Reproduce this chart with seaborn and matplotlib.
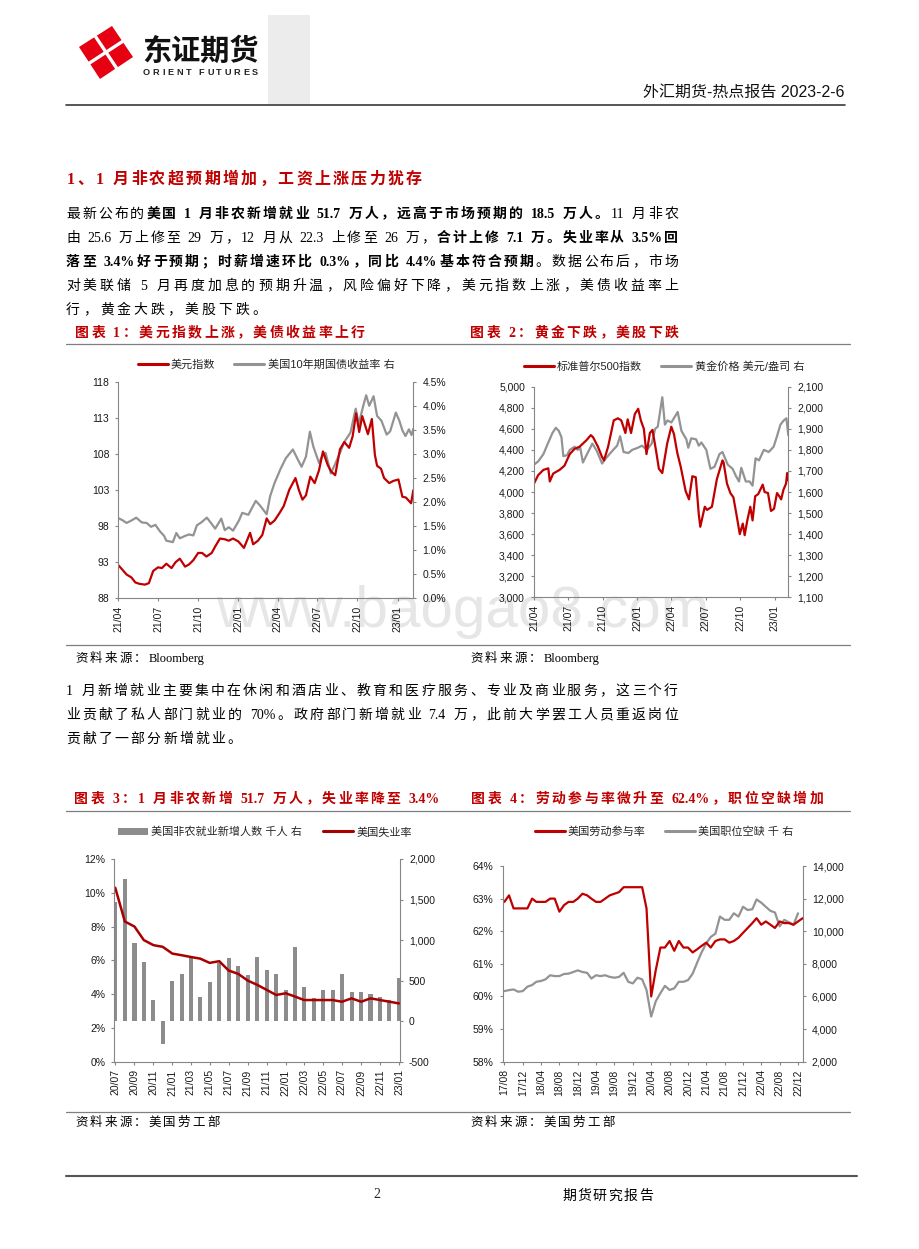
import re
import math
import numpy as np
import pandas as pd
import matplotlib
matplotlib.use('Agg')
import matplotlib.pyplot as plt
import matplotlib.dates as mdates
import matplotlib.ticker as mticker
import matplotlib.transforms as mtransforms
from matplotlib.backends.backend_agg import get_hinting_flag
from matplotlib.lines import Line2D
from matplotlib.patches import Patch, Polygon, Rectangle
import seaborn as sns

# ---------------- data ----------------
# chart 1: dollar index (left) and US 10y yield % (right)
dxy_dates = ['2021-04-01', '2021-04-10', '2021-04-20', '2021-05-01', '2021-05-10', '2021-05-20',
             '2021-06-01', '2021-06-10', '2021-06-20', '2021-07-01', '2021-07-10', '2021-07-20',
             '2021-08-01', '2021-08-10', '2021-08-20', '2021-09-01', '2021-09-10', '2021-09-20',
             '2021-10-01', '2021-10-10', '2021-10-20', '2021-11-01', '2021-11-10', '2021-11-20',
             '2021-12-01', '2021-12-10', '2021-12-20', '2022-01-01', '2022-01-14', '2022-01-28',
             '2022-02-04', '2022-02-15', '2022-02-25', '2022-03-07', '2022-03-15', '2022-03-25',
             '2022-04-05', '2022-04-15', '2022-04-28', '2022-05-12', '2022-05-20', '2022-05-28',
             '2022-06-05', '2022-06-15', '2022-06-25', '2022-07-05', '2022-07-14', '2022-07-25',
             '2022-08-02', '2022-08-11', '2022-08-22', '2022-09-01', '2022-09-12', '2022-09-20',
             '2022-09-28', '2022-10-05', '2022-10-12', '2022-10-25', '2022-11-03', '2022-11-10',
             '2022-11-15', '2022-11-24', '2022-12-01', '2022-12-13', '2022-12-22', '2023-01-03',
             '2023-01-12', '2023-01-20', '2023-01-26', '2023-02-01', '2023-02-06']
dxy = [92.6, 92.0, 91.3, 90.9, 90.2, 90.0, 89.9, 90.1, 91.8, 92.3, 92.2, 92.8,
       92.2, 93.0, 93.5, 92.4, 92.7, 93.3, 94.3, 94.3, 93.8, 94.3, 95.3, 96.3,
       96.2, 96.0, 96.3, 95.9, 95.0, 97.1, 95.5, 96.0, 96.8, 99.1, 98.3, 98.8,
       99.8, 100.8, 103.1, 104.7, 103.0, 101.7, 102.3, 104.9, 104.0, 105.8, 108.4, 106.5,
       105.6, 105.1, 108.7, 109.7, 108.9, 110.5, 113.7, 111.1, 113.3, 110.8, 112.9, 107.9,
       106.4, 106.0, 104.7, 104.0, 104.3, 104.5, 102.1, 102.0, 101.6, 101.2, 103.0]

ust_dates = ['2021-04-01', '2021-04-10', '2021-04-20', '2021-05-01', '2021-05-12', '2021-05-25',
             '2021-06-05', '2021-06-15', '2021-06-25', '2021-07-05', '2021-07-15', '2021-07-20',
             '2021-08-04', '2021-08-12', '2021-08-20', '2021-09-01', '2021-09-10', '2021-09-20',
             '2021-09-28', '2021-10-08', '2021-10-21', '2021-11-01', '2021-11-09', '2021-11-23',
             '2021-12-01', '2021-12-10', '2021-12-20', '2022-01-03', '2022-01-10', '2022-01-24',
             '2022-02-10', '2022-02-20', '2022-03-07', '2022-03-15', '2022-03-25', '2022-04-08',
             '2022-04-20', '2022-05-06', '2022-05-18', '2022-05-26', '2022-06-05', '2022-06-14',
             '2022-06-22', '2022-07-05', '2022-07-12', '2022-07-20', '2022-08-01', '2022-08-10',
             '2022-08-22', '2022-09-01', '2022-09-15', '2022-09-27', '2022-10-04', '2022-10-14',
             '2022-10-21', '2022-10-28', '2022-11-07', '2022-11-15', '2022-11-25', '2022-12-07',
             '2022-12-15', '2022-12-28', '2023-01-05', '2023-01-12', '2023-01-19', '2023-01-27',
             '2023-02-02', '2023-02-06']
ust = [1.67, 1.63, 1.57, 1.62, 1.68, 1.58, 1.57, 1.49, 1.53, 1.40, 1.30, 1.20,
       1.17, 1.36, 1.25, 1.30, 1.33, 1.31, 1.52, 1.58, 1.68, 1.55, 1.45, 1.66,
       1.42, 1.48, 1.41, 1.63, 1.78, 1.74, 2.03, 1.93, 1.75, 2.13, 2.40, 2.70,
       2.92, 3.10, 2.88, 2.74, 2.95, 3.47, 3.16, 2.82, 2.96, 3.03, 2.60, 2.78,
       3.03, 3.26, 3.45, 3.95, 3.63, 4.00, 4.23, 4.01, 4.21, 3.80, 3.70, 3.41,
       3.48, 3.87, 3.70, 3.50, 3.38, 3.52, 3.40, 3.53]

# chart 2: S&P 500 (left) and gold USD/oz (right)
spx_dates = ['2021-04-01', '2021-04-12', '2021-04-26', '2021-05-09', '2021-05-13', '2021-05-22',
             '2021-06-08', '2021-06-21', '2021-07-05', '2021-07-18', '2021-07-31', '2021-08-18',
             '2021-08-30', '2021-09-05', '2021-09-18', '2021-09-28', '2021-10-04', '2021-10-15',
             '2021-10-30', '2021-11-10', '2021-11-19', '2021-11-30', '2021-12-06', '2021-12-15',
             '2021-12-25', '2022-01-03', '2022-01-10', '2022-01-18', '2022-01-25', '2022-02-03',
             '2022-02-10', '2022-02-20', '2022-02-27', '2022-03-08', '2022-03-21', '2022-04-01',
             '2022-04-08', '2022-04-17', '2022-04-26', '2022-05-09', '2022-05-18', '2022-05-27',
             '2022-06-05', '2022-06-13', '2022-06-17', '2022-06-29', '2022-07-05', '2022-07-18',
             '2022-07-31', '2022-08-15', '2022-08-18', '2022-08-27', '2022-09-05', '2022-09-13',
             '2022-09-22', '2022-09-30', '2022-10-08', '2022-10-13', '2022-10-20', '2022-10-28',
             '2022-11-03', '2022-11-10', '2022-11-18', '2022-11-30', '2022-12-05', '2022-12-14',
             '2022-12-22', '2022-12-30', '2023-01-07', '2023-01-13', '2023-01-18', '2023-01-24',
             '2023-01-31', '2023-02-03', '2023-02-06']
spx = [4080, 4160, 4210, 4225, 4100, 4175, 4210, 4250, 4360, 4410, 4430, 4490,
       4540, 4520, 4430, 4340, 4300, 4430, 4680, 4700, 4680, 4560, 4690, 4560,
       4740, 4790, 4680, 4600, 4360, 4560, 4590, 4380, 4220, 4180, 4460, 4620,
       4550, 4370, 4240, 4010, 3930, 4150, 4140, 3790, 3670, 3860, 3830, 3860,
       4120, 4300, 4280, 4080, 3990, 3950, 3770, 3600, 3700, 3590, 3730, 3860,
       3730, 3960, 3980, 4070, 4000, 3990, 3820, 3840, 3990, 3960, 3930, 4020,
       4080, 4180, 4110]

gold_dates = ['2021-04-01', '2021-04-12', '2021-04-26', '2021-05-09', '2021-05-20', '2021-05-29',
              '2021-06-06', '2021-06-13', '2021-06-18', '2021-06-28', '2021-07-05', '2021-07-18',
              '2021-07-26', '2021-08-02', '2021-08-09', '2021-08-20', '2021-08-30', '2021-09-03',
              '2021-09-15', '2021-09-29', '2021-10-09', '2021-10-26', '2021-11-08', '2021-11-16',
              '2021-11-25', '2021-12-08', '2021-12-18', '2022-01-02', '2022-01-13', '2022-01-26',
              '2022-02-08', '2022-02-17', '2022-02-24', '2022-03-08', '2022-03-15', '2022-03-22',
              '2022-04-01', '2022-04-18', '2022-04-28', '2022-05-11', '2022-05-16', '2022-05-24',
              '2022-06-06', '2022-06-13', '2022-06-20', '2022-07-03', '2022-07-14', '2022-07-25',
              '2022-08-07', '2022-08-15', '2022-08-29', '2022-09-11', '2022-09-20', '2022-09-28',
              '2022-10-04', '2022-10-16', '2022-10-26', '2022-11-03', '2022-11-11', '2022-11-20',
              '2022-12-03', '2022-12-16', '2022-12-29', '2023-01-07', '2023-01-16', '2023-01-25',
              '2023-02-01', '2023-02-06']
gold = [1730, 1745, 1780, 1835, 1880, 1905, 1890, 1860, 1770, 1775, 1800, 1815,
        1800, 1810, 1740, 1780, 1815, 1830, 1795, 1735, 1760, 1795, 1820, 1865,
        1790, 1785, 1800, 1810, 1820, 1800, 1830, 1900, 1910, 2050, 1920, 1940,
        1930, 1980, 1890, 1850, 1810, 1855, 1850, 1820, 1835, 1800, 1710, 1720,
        1780, 1790, 1730, 1710, 1675, 1650, 1715, 1650, 1650, 1630, 1760, 1750,
        1800, 1790, 1815, 1865, 1920, 1940, 1950, 1870]

# chart 3: nonfarm payrolls (thousand, right) and unemployment rate % (left)
nfp_months = pd.date_range('2020-07-01', '2023-01-01', freq='MS')
nfp = [1470, 1750, 965, 735, 265, -280,
       500, 585, 800, 295, 485, 715, 775, 680, 565, 790, 625, 585,
       380, 915, 420, 290, 380, 380, 585, 365, 365, 335, 295, 265,
       530]
unrate = [10.3, 8.3, 8.0, 7.2, 6.9, 6.8,
          6.4, 6.3, 6.2, 6.1, 5.85, 5.95, 5.4, 5.2, 4.8, 4.55, 4.25, 3.95,
          4.05, 3.85, 3.65, 3.65, 3.65, 3.65, 3.55, 3.75, 3.55, 3.75, 3.65, 3.55,
          3.45]

# chart 4: participation rate % (left) and job openings thousand (right)
lfpr_months = pd.date_range('2017-08-01', '2023-01-01', freq='MS')
lfpr = [62.9, 63.1, 62.7, 62.7, 62.7,
        62.7, 63.0, 62.9, 62.9, 62.9, 63.0, 63.0, 62.6, 62.8, 62.9, 62.9, 63.0,
        63.15, 63.1, 63.0, 62.9, 62.9, 63.0, 63.1, 63.15, 63.2, 63.35, 63.35, 63.35,
        63.35, 63.35, 62.7, 60.0, 60.8, 61.5, 61.5, 61.7, 61.4, 61.7, 61.5, 61.5,
        61.35, 61.45, 61.55, 61.65, 61.5, 61.7, 61.75, 61.75, 61.65, 61.7, 61.8, 61.95,
        62.1, 62.25, 62.4, 62.2, 62.3, 62.2, 62.1, 62.3, 62.25, 62.25, 62.2, 62.3,
        62.4]
jolts_months = pd.date_range('2017-08-01', '2022-12-01', freq='MS')
jolts = [6330, 6390, 6430, 6290, 6330,
         6600, 6700, 6900, 6950, 7050, 7300, 7250, 7250, 7380, 7400, 7500, 7600,
         7500, 7450, 7100, 7300, 7250, 7300, 7200, 7150, 7200, 7450, 6900, 6800,
         7150, 7050, 6400, 4770, 5700, 6200, 6650, 6400, 6500, 6900, 6900, 7000,
         7400, 8100, 8700, 9250, 9650, 9850, 10900, 10700, 10700, 11100, 10900, 11500,
         11300, 11350, 11950, 11750, 11500, 11250, 11150, 10300, 10700, 10550, 10400, 11100]

c1_left_ticks = [88, 93, 98, 103, 108, 113, 118]
c1_right_ticks = [0.0, 0.5, 1.0, 1.5, 2.0, 2.5, 3.0, 3.5, 4.0, 4.5]
c2_left_ticks = [3000, 3200, 3400, 3600, 3800, 4000, 4200, 4400, 4600, 4800, 5000]
c2_right_ticks = [1100, 1200, 1300, 1400, 1500, 1600, 1700, 1800, 1900, 2000, 2100]
c3_left_ticks = [0, 2, 4, 6, 8, 10, 12]
c3_right_ticks = [-500, 0, 500, 1000, 1500, 2000]
c4_left_ticks = [58, 59, 60, 61, 62, 63, 64]
c4_right_ticks = [2000, 4000, 6000, 8000, 10000, 12000, 14000]

# ---------------- page setup ----------------
sns.set_theme(style='white')
SANS = ['Liberation Sans', 'Noto Sans CJK SC']
CJK = 'Noto Sans CJK SC'
plt.rcParams['font.family'] = SANS
plt.rcParams['axes.unicode_minus'] = False

RED = '#C00000'
GREY = '#939393'
BAR = '#8C8C8C'
AXC = '#868686'

W, H = 920, 1249
fig = plt.figure(figsize=(W / 100, H / 100), dpi=100)
fig.patch.set_facecolor('white')
PX = mtransforms.Affine2D().scale(1 / W, -1 / H).translate(0, 1) + fig.transFigure
rend = fig.canvas.get_renderer()

TOK = re.compile(r'[0-9A-Za-z.%/\-]+| |.')


def raster_shift(tk, fp):
    # Agg places each glyph bitmap with integer rounding; work out how far
    # this token's baseline lands from the requested one so it can be undone
    font = rend._prepare_font(fp)
    font.set_text(tk, 0, flags=get_hinting_flag())
    _, h = font.get_width_height()
    d = font.get_descent()
    return round(d / 64.0) - h // 64 + (h - d) // 64


def put_line(segs, x0, y, size, latin='Liberation Serif', color='black', right=None, gap=0.0):
    # lay out tokens one by one so bold runs and justified lines work
    items = []
    for s, bold in segs:
        items += [(tk, bold) for tk in TOK.findall(s)]
    base = round(y + 0.36 * size * 100 / 72)
    arts, ws = [], []
    for tk, bold in items:
        if tk == ' ':
            arts.append(None)
            ws.append(size * 100 / 72 * 0.25)
            continue
        fam = latin if tk.isascii() else CJK
        t = fig.text(0, base, tk, transform=PX, fontsize=size, family=fam, color=color,
                     fontweight='bold' if bold else 'normal', ha='left', va='baseline')
        t.set_y(base - raster_shift(tk, t.get_fontproperties()))
        arts.append(t)
        ws.append(t.get_window_extent(rend).width)
    if right is not None and len(items) > 1:
        gap = (right - x0 - sum(ws)) / (len(items) - 1)
    x = x0
    for a, w in zip(arts, ws):
        if a is not None:
            a.set_x(x)
        x += w + gap
    return gap


def hline(x0, x1, y, color='#7f7f7f', lw=0.9):
    fig.add_artist(Line2D([x0, x1], [y, y], transform=PX, color=color, lw=lw))


# ---------------- header ----------------
fig.add_artist(Rectangle((268, 105), 42, -90, transform=PX, color='#ececec', lw=0, zorder=0))
corners = [(112, 26), (133, 57), (100, 79), (79, 47)]
fig.add_artist(Polygon(corners, closed=True, transform=PX, color='#E50012', lw=0))
fig.add_artist(Line2D([122.5, 89.5], [41.5, 63], transform=PX, color='white', lw=2.4))
fig.add_artist(Line2D([116.5, 95.5], [68, 36.5], transform=PX, color='white', lw=2.4))
fig.text(142, 51, '东证期货', transform=PX, fontsize=21, fontweight='heavy',
         family=CJK, color='#111111', va='center', ha='left')
put_line([('O R I E N T   F U T U R E S', True)], 143, 71.5, 6.6, latin='Liberation Sans',
         color='#222222', right=258)
fig.text(845, 92, '外汇期货-热点报告 2023-2-6', transform=PX, fontsize=11.5, family=SANS,
         color='#111111', ha='right', va='center')
hline(66, 845, 105.5, color='#3a3a3a', lw=1.2)

# ---------------- body text ----------------
put_line([('1、1 月非农超预期增加，工资上涨压力犹存', True)], 67, 178, 11.5,
         color=RED, right=422)

para1 = [
    [('最新公布的', False), ('美国 1 月非农新增就业 51.7 万人，远高于市场预期的 18.5 万人。', True),
     ('11 月非农', False)],
    [('由 25.6 万上修至 29 万，12 月从 22.3 上修至 26 万，', False),
     ('合计上修 7.1 万。失业率从 3.5%回', True)],
    [('落至 3.4%好于预期；时薪增速环比 0.3%，同比 4.4%基本符合预期', True),
     ('。数据公布后，市场', False)],
    [('对美联储 5 月再度加息的预期升温，风险偏好下降，美元指数上涨，美债收益率上', False)],
    [('行，黄金大跌，美股下跌。', False)],
]
para1_y = [213, 237, 261, 285, 309]
g = 2.0
for i, (segs, yy) in enumerate(zip(para1, para1_y)):
    if i < len(para1) - 1:
        g = put_line(segs, 66, yy, 10, right=678)
    else:
        put_line(segs, 66, yy, 10, gap=g)

para2 = [
    [('1 月新增就业主要集中在休闲和酒店业、教育和医疗服务、专业及商业服务，这三个行', False)],
    [('业贡献了私人部门就业的 70%。政府部门新增就业 7.4 万，此前大学罢工人员重返岗位', False)],
    [('贡献了一部分新增就业。', False)],
]
para2_y = [690, 714, 738]
for i, (segs, yy) in enumerate(zip(para2, para2_y)):
    if i < len(para2) - 1:
        g = put_line(segs, 66, yy, 10, right=678)
    else:
        put_line(segs, 66, yy, 10, gap=g)

put_line([('图表 1：美元指数上涨，美债收益率上行', True)], 75, 332, 10, color=RED, gap=2.4)
put_line([('图表 2：黄金下跌，美股下跌', True)], 470, 332, 10, color=RED, gap=2.4)
put_line([('图表 3：1 月非农新增 51.7 万人，失业率降至 3.4%', True)], 74, 798, 10, color=RED, gap=2.4)
put_line([('图表 4：劳动参与率微升至 62.4%，职位空缺增加', True)], 471, 798, 10, color=RED, gap=2.4)
for yy in (344, 645, 811, 1112):
    hline(66, 850, yy)
put_line([('资料来源：Bloomberg', False)], 75, 657, 9, gap=2.2)
put_line([('资料来源：Bloomberg', False)], 470, 657, 9, gap=2.2)
put_line([('资料来源：美国劳工部', False)], 75, 1122, 9, gap=2.2)
put_line([('资料来源：美国劳工部', False)], 470, 1122, 9, gap=2.2)

hline(66, 857, 1176, color='#555555', lw=1.5)
fig.text(377, 1195, '2', transform=PX, fontsize=10, family='Liberation Serif',
         ha='center', va='center')
put_line([('期货研究报告', False)], 562, 1195, 10, gap=1.6)

fig.text(216, 627, 'www.baogao8.com', transform=PX, fontsize=42, family='Liberation Sans',
         color='#e6e6e6', ha='left', va='baseline', zorder=-1)


# ---------------- charts ----------------
def panel(box):
    l, t, r, b = box
    ax = fig.add_axes([l / W, 1 - b / H, (r - l) / W, (b - t) / H])
    ax2 = ax.twinx()
    ax.set_zorder(ax2.get_zorder() + 1)
    ax.patch.set_visible(False)
    ax2.patch.set_visible(False)
    return ax, ax2


def finish(ax, ax2, xlim, months, lt, rt, lfmt, rfmt):
    ax.set_xlim(pd.Timestamp(xlim[0]), pd.Timestamp(xlim[1]))
    ax.xaxis.set_major_locator(mdates.MonthLocator(bymonth=months))
    ax.xaxis.set_major_formatter(mdates.DateFormatter('%y/%m'))
    ax.set_yticks(lt)
    ax.set_ylim(lt[0], lt[-1])
    ax2.set_yticks(rt)
    ax2.set_ylim(rt[0], rt[-1])
    ax.yaxis.set_major_formatter(mticker.StrMethodFormatter(lfmt))
    ax2.yaxis.set_major_formatter(mticker.StrMethodFormatter(rfmt))
    for a in (ax, ax2):
        a.grid(False)
        a.set_xlabel('')
        a.set_ylabel('')
        for s in a.spines.values():
            s.set_color(AXC)
            s.set_linewidth(0.8)
        a.spines['top'].set_visible(False)
    ax.spines['right'].set_visible(False)
    ax2.spines['left'].set_visible(False)
    ax2.spines['bottom'].set_visible(False)
    ax.tick_params(axis='x', bottom=True, direction='out', length=2.5, width=0.8,
                   color=AXC, labelsize=7.5, labelcolor='#1a1a1a', pad=3, labelrotation=90)
    ax.tick_params(axis='y', left=True, right=False, direction='out', length=2.5, width=0.8,
                   color=AXC, labelsize=7.5, labelcolor='#1a1a1a', pad=4)
    ax2.tick_params(axis='y', right=True, left=False, direction='out', length=2.5, width=0.8,
                    color=AXC, labelsize=7.5, labelcolor='#1a1a1a', pad=4)
    for lab in ax.get_xticklabels() + ax.get_yticklabels() + ax2.get_yticklabels():
        lab.set_family('Liberation Sans')


def legend(handles, labels, cx, cy, colsp=1.7):
    fig.legend(handles, labels, loc='center', bbox_to_anchor=(cx / W, 1 - cy / H),
               ncol=2, frameon=False, prop={'family': SANS, 'size': 8},
               handlelength=2.7, handletextpad=0.3, columnspacing=colsp,
               borderaxespad=0, borderpad=0)


# chart 1
ax, ax2 = panel((118.3, 382.3, 413.3, 598.3))
sns.lineplot(x=pd.to_datetime(ust_dates), y=ust, ax=ax2, color=GREY, linewidth=1.6, legend=False)
sns.lineplot(x=pd.to_datetime(dxy_dates), y=dxy, ax=ax, color=RED, linewidth=1.6, legend=False)
finish(ax, ax2, ('2021-04-01', '2023-02-06'), [1, 4, 7, 10],
       c1_left_ticks, c1_right_ticks, '{x:.0f}', '{x:.1f}%')
legend([Line2D([], [], color=RED, lw=2.2), Line2D([], [], color=GREY, lw=2.2)],
       ['美元指数', '美国10年期国债收益率 右'], 266, 365)

# chart 2
ax, ax2 = panel((534, 386.7, 788.3, 597.3))
sns.lineplot(x=pd.to_datetime(gold_dates), y=gold, ax=ax2, color=GREY, linewidth=1.6, legend=False)
sns.lineplot(x=pd.to_datetime(spx_dates), y=spx, ax=ax, color=RED, linewidth=1.6, legend=False)
finish(ax, ax2, ('2021-04-01', '2023-02-06'), [1, 4, 7, 10],
       c2_left_ticks, c2_right_ticks, '{x:,.0f}', '{x:,.0f}')
legend([Line2D([], [], color=RED, lw=2.2), Line2D([], [], color=GREY, lw=2.2)],
       ['标准普尔500指数', '黄金价格 美元/盎司 右'], 664, 367)

# chart 3
ax, ax2 = panel((114.3, 859, 400, 1061.7))
ax2.bar(nfp_months, nfp, width=13, color=BAR, linewidth=0)
sns.lineplot(x=nfp_months, y=unrate, ax=ax, color='#A80000', linewidth=1.8, legend=False)
finish(ax, ax2, ('2020-06-28', '2023-01-04'), [1, 3, 5, 7, 9, 11],
       c3_left_ticks, c3_right_ticks, '{x:.0f}%', '{x:,.0f}')
legend([Patch(facecolor=BAR, lw=0), Line2D([], [], color='#A80000', lw=2.2)],
       ['美国非农就业新增人数 千人 右', '美国失业率'], 265, 832, colsp=1.9)

# chart 4
ax, ax2 = panel((502.7, 866, 802.7, 1061.7))
sns.lineplot(x=jolts_months, y=jolts, ax=ax2, color=GREY, linewidth=1.6, legend=False)
sns.lineplot(x=lfpr_months, y=lfpr, ax=ax, color=RED, linewidth=1.6, legend=False)
finish(ax, ax2, ('2017-07-21', '2023-01-01'), [4, 8, 12],
       c4_left_ticks, c4_right_ticks, '{x:.0f}%', '{x:,.0f}')
legend([Line2D([], [], color=RED, lw=2.2), Line2D([], [], color=GREY, lw=2.2)],
       ['美国劳动参与率', '美国职位空缺 千 右'], 664, 832)

fig.savefig('out.png', dpi=100)
